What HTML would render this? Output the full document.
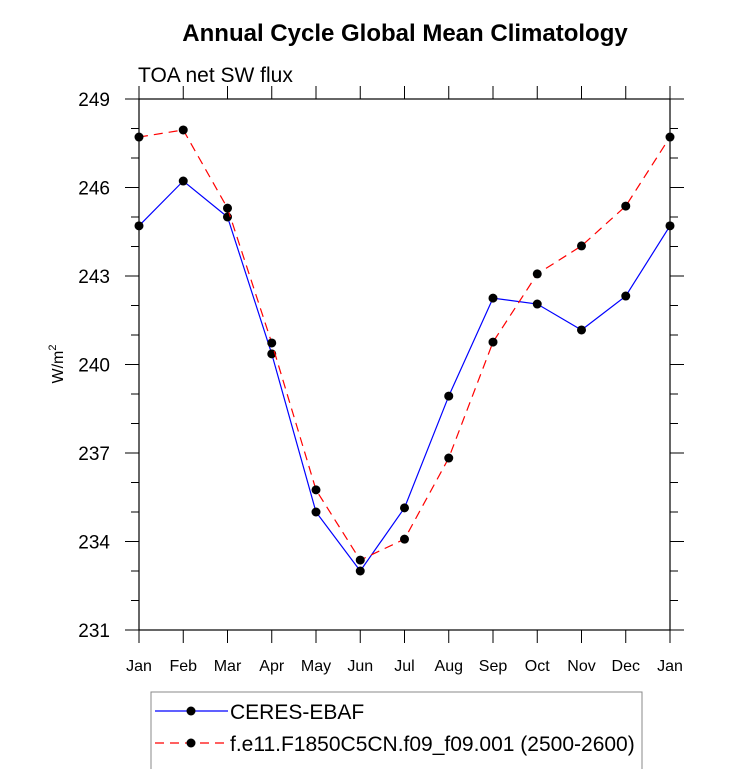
<!DOCTYPE html>
<html><head><meta charset="utf-8"><style>
body{margin:0;background:#fff}
text{font-family:"Liberation Sans",Arial,sans-serif}
</style></head><body>
<svg id="chart" width="733" height="769" xmlns="http://www.w3.org/2000/svg">
<text x="405" y="41" text-anchor="middle" font-size="24" font-weight="bold">Annual Cycle Global Mean Climatology</text>
<text x="138" y="82" font-size="21">TOA net SW flux</text>
<text transform="translate(63,364) rotate(-90)" text-anchor="middle" font-size="16">W/m<tspan dy="-7" font-size="11">2</tspan></text>
<g id="axes"></g>
<g id="series"></g>
<g>
<rect x="151" y="692" width="491" height="80" fill="none" stroke="#888" stroke-width="1"/>
<g>
<line x1="155" y1="711" x2="228" y2="711" stroke="#0000ff" stroke-width="1.2"/>
<circle cx="191" cy="711" r="4.5" fill="#000"/>
<text x="230" y="719" font-size="21">CERES-EBAF</text></g>
<g>
<line x1="155" y1="743" x2="228" y2="743" stroke="#ff0000" stroke-width="1.2" stroke-dasharray="9,6"/>
<circle cx="191" cy="743" r="4.5" fill="#000"/>
<text x="230" y="751" font-size="21">f.e11.F1850C5CN.f09_f09.001 (2500-2600)</text></g>
</g>
</svg>
<script>
const months=["Jan","Feb","Mar","Apr","May","Jun","Jul","Aug","Sep","Oct","Nov","Dec","Jan"];
const yTicks=[231,234,237,240,243,246,249];
const ceres=[244.7,246.22,245.0,240.36,235.0,233.0,235.14,238.93,242.25,242.05,241.17,242.32,244.7];
const model=[247.71,247.95,245.3,240.73,235.75,233.37,234.08,236.83,240.76,243.07,244.02,245.37,247.71];
const NS="http://www.w3.org/2000/svg";
const L=139,R=670,T=99,B=630,YMIN=231,YMAX=249;
function x(i){return L+(R-L)*i/12;}
function y(v){return B-(v-YMIN)/(YMAX-YMIN)*(B-T);}
function mk(tag,a,p){const e=document.createElementNS(NS,tag);for(const k in a)e.setAttribute(k,a[k]);p.appendChild(e);return e;}
const ax=document.getElementById('axes');
const frame=mk('rect',{x:L,y:T,width:R-L,height:B-T,fill:'none',stroke:'#000','stroke-width':1.2},ax);


for(let i=0;i<=12;i++){
  const t1=mk('line',{x1:x(i),x2:x(i),y1:B,y2:B+13,stroke:'#000','stroke-width':1},ax);
  
  
  const t2=mk('line',{x1:x(i),x2:x(i),y1:T,y2:T-13,stroke:'#000','stroke-width':1},ax);
  
  
  const tx=mk('text',{x:x(i),y:B+41,'text-anchor':'middle','font-size':16},ax);
  tx.textContent=months[i];
  
  
}
for(let v=YMIN;v<=YMAX;v++){
  const major=yTicks.includes(v);const len=major?14:8;
  const a=mk('line',{x1:L-len,x2:L,y1:y(v),y2:y(v),stroke:'#000','stroke-width':1},ax);
  
  
  const b=mk('line',{x1:R,x2:R+len,y1:y(v),y2:y(v),stroke:'#000','stroke-width':1},ax);
  
  
}
yTicks.forEach(v=>{
  const t=mk('text',{x:L-29,y:y(v)+7,'text-anchor':'end','font-size':19},ax);
  t.textContent=v;
  
  
});
const sg=document.getElementById('series');
function draw(vals,color,dash,name){
  const pts=vals.map((v,i)=>x(i)+','+y(v)).join(' ');
  const pl=mk('polyline',{points:pts,fill:'none',stroke:color,'stroke-width':1.2},sg);
  if(dash)pl.setAttribute('stroke-dasharray',dash);
  
  
  vals.forEach((v,i)=>{
    const c=mk('circle',{cx:x(i),cy:y(v),r:4.5,fill:'#000'},sg);
    
    
  });
}
draw(ceres,'#0000ff',null,'ceres');
draw(model,'#ff0000','9,6','model');
</script>
</body></html>
